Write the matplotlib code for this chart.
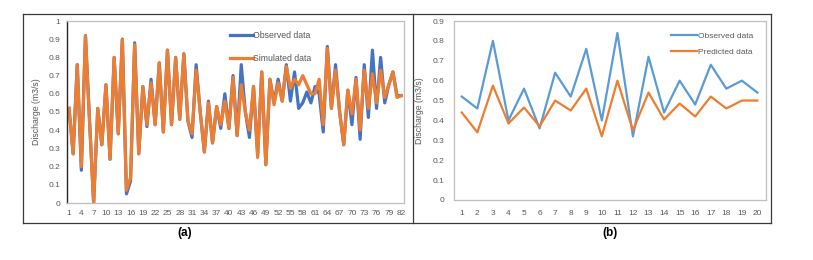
import matplotlib
matplotlib.use("Agg")
import matplotlib.pyplot as plt
from matplotlib.lines import Line2D

plt.rcParams['font.family'] = ['Liberation Sans', 'DejaVu Sans']

# ---------- data panel (a) ----------
idx_a = list(range(1, 83))
observed_a = [0.52, 0.27, 0.76, 0.18, 0.92, 0.45, 0.00, 0.52, 0.32, 0.65,
              0.24, 0.80, 0.38, 0.90, 0.05, 0.12, 0.88, 0.27, 0.64, 0.42,
              0.68, 0.43, 0.77, 0.39, 0.84, 0.43, 0.80, 0.46, 0.82, 0.45,
              0.36, 0.76, 0.50, 0.28, 0.56, 0.33, 0.53, 0.41, 0.60, 0.41,
              0.70, 0.37, 0.76, 0.50, 0.36, 0.64, 0.27, 0.72, 0.21, 0.68,
              0.55, 0.68, 0.56, 0.76, 0.56, 0.72, 0.52, 0.55, 0.61, 0.55,
              0.64, 0.60, 0.39, 0.86, 0.52, 0.76, 0.50, 0.32, 0.62, 0.43,
              0.69, 0.35, 0.76, 0.47, 0.84, 0.52, 0.80, 0.55, 0.65, 0.72,
              0.59, 0.59]
simulated_a = [0.52, 0.27, 0.76, 0.20, 0.92, 0.45, 0.00, 0.52, 0.32, 0.65,
               0.24, 0.80, 0.38, 0.90, 0.07, 0.14, 0.87, 0.27, 0.64, 0.43,
               0.66, 0.43, 0.77, 0.39, 0.84, 0.43, 0.80, 0.46, 0.82, 0.45,
               0.38, 0.73, 0.50, 0.28, 0.55, 0.33, 0.53, 0.43, 0.56, 0.41,
               0.69, 0.37, 0.65, 0.50, 0.40, 0.64, 0.25, 0.72, 0.21, 0.68,
               0.54, 0.66, 0.56, 0.75, 0.63, 0.68, 0.65, 0.70, 0.65, 0.60,
               0.60, 0.68, 0.43, 0.85, 0.52, 0.73, 0.50, 0.32, 0.62, 0.49,
               0.68, 0.40, 0.73, 0.52, 0.71, 0.55, 0.73, 0.58, 0.65, 0.72,
               0.58, 0.59]
xticks_a = list(range(1, 83, 3))
yticks_a = [0, 0.1, 0.2, 0.3, 0.4, 0.5, 0.6, 0.7, 0.8, 0.9, 1]

# ---------- data panel (b) ----------
idx_b = list(range(1, 21))
observed_b = [0.52, 0.46, 0.80, 0.40, 0.56, 0.36, 0.64, 0.52, 0.76, 0.40,
              0.84, 0.32, 0.72, 0.44, 0.60, 0.48, 0.68, 0.56, 0.60, 0.54]
predicted_b = [0.44, 0.34, 0.575, 0.385, 0.465, 0.37, 0.50, 0.45, 0.56, 0.32,
               0.60, 0.35, 0.54, 0.405, 0.485, 0.42, 0.52, 0.46, 0.50, 0.50]
yticks_b = [0, 0.1, 0.2, 0.3, 0.4, 0.5, 0.6, 0.7, 0.8, 0.9]

W, H = 813, 260
fig = plt.figure(figsize=(W / 100, H / 100), dpi=100)

def fx(px):
    return px / W

def fy(py):
    return 1 - py / H

def ax_rect(l, t, r, b):
    return [fx(l), fy(b), fx(r) - fx(l), fy(t) - fy(b)]

tick_col = '#595959'

def fmt(v):
    return f"{v:g}"

# ---------- panel (a) ----------
axa = fig.add_axes(ax_rect(67, 21, 404, 203))
axa.plot(idx_a, observed_a, color='#4472C4', lw=2.3, label='Observed data', solid_joinstyle='round')
axa.plot(idx_a, simulated_a, color='#ED7D31', lw=2.3, label='Simulated data', solid_joinstyle='round')
axa.set_xlim(0.5, 82.7)
axa.set_ylim(0, 1)
axa.set_xticks(xticks_a)
axa.set_xticklabels([str(t) for t in xticks_a])
axa.set_yticks(yticks_a)
axa.set_yticklabels([fmt(t) for t in yticks_a])
axa.tick_params(length=0, labelsize=6, colors=tick_col, pad=5)
for s in ['top', 'right', 'bottom']:
    axa.spines[s].set_color('#BFBFBF')
    axa.spines[s].set_linewidth(0.9)
axa.spines['left'].set_color('#262626')
axa.spines['left'].set_linewidth(1.0)
axa.set_ylabel('Discharge (m3/s)', fontsize=6.3, color=tick_col, labelpad=5)
axa.legend(loc='upper left', bbox_to_anchor=(0.46, 0.99), frameon=False,
           fontsize=6.3, labelcolor=tick_col, handlelength=2.6,
           handletextpad=0.05, labelspacing=1.6)

# ---------- panel (b) ----------
axb = fig.add_axes(ax_rect(454, 21, 766, 200))
axb.plot(idx_b, observed_b, color='#5B9BD5', lw=1.6, label='Observed data', solid_joinstyle='round')
axb.plot(idx_b, predicted_b, color='#ED7D31', lw=1.6, label='Predicted data', solid_joinstyle='round')
axb.set_xlim(0.5, 20.55)
axb.set_ylim(0, 0.9)
axb.set_xticks(idx_b)
axb.set_xticklabels([str(t) for t in idx_b])
axb.set_yticks(yticks_b)
axb.set_yticklabels([fmt(t) for t in yticks_b])
axb.tick_params(length=0, labelsize=6, colors=tick_col, pad=7)
for s in axb.spines.values():
    s.set_color('#BFBFBF')
    s.set_linewidth(0.9)
axb.set_ylabel('Discharge (m3/s)', fontsize=6.3, color=tick_col, labelpad=6)
axb.legend(loc='upper left', bbox_to_anchor=(0.67, 0.98), frameon=False,
           fontsize=6, labelcolor=tick_col, handlelength=3.2,
           handletextpad=0.05, labelspacing=1.0)

# ---------- outer frames ----------
fc = '#3a3a3a'
for (x0, y0, x1, y1) in [(23, 14, 771, 14), (23, 223, 771, 223),
                         (23, 14, 23, 223), (413, 14, 413, 223),
                         (771, 14, 771, 223)]:
    fig.add_artist(Line2D([fx(x0), fx(x1)], [fy(y0), fy(y1)], color=fc, lw=0.9))

fig.text(fx(185), fy(233), '(a)', fontsize=8.5, fontweight='bold', ha='center', va='center')
fig.text(fx(610), fy(233), '(b)', fontsize=8.5, fontweight='bold', ha='center', va='center')

fig.savefig('out.png', dpi=100)
